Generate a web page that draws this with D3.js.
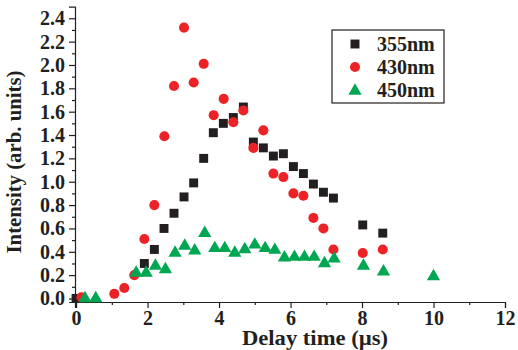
<!DOCTYPE html>
<html>
<head>
<meta charset="utf-8">
<script src="https://cdn.jsdelivr.net/npm/d3@7"></script>
<style>
  html, body { margin: 0; padding: 0; background: #ffffff; }
  svg { display: block; }
  text { font-family: "Liberation Serif", "Times New Roman", serif; font-weight: bold; fill: #231f20; }
</style>
</head>
<body>
<div id="chart"></div>
<script>
// ---- data ----
const seriesNames = ["355nm", "430nm", "450nm"];

const time355 = [0, 1.91, 2.19, 2.46, 2.74, 3.02, 3.29, 3.57, 3.84, 4.12, 4.40, 4.68, 4.96, 5.24, 5.52, 5.80, 6.08, 6.36, 6.64, 6.92, 7.20, 8.02, 8.58];
const int355  = [0, 0.30, 0.42, 0.60, 0.73, 0.87, 0.99, 1.20, 1.42, 1.50, 1.55, 1.64, 1.34, 1.29, 1.22, 1.24, 1.13, 1.07, 0.98, 0.91, 0.86, 0.63, 0.56];

const time430 = [0.15, 1.07, 1.35, 1.63, 1.91, 2.19, 2.47, 2.74, 3.02, 3.29, 3.57, 3.85, 4.13, 4.40, 4.68, 4.96, 5.24, 5.52, 5.80, 6.08, 6.36, 6.64, 6.92, 7.20, 8.02, 8.58];
const int430  = [0.01, 0.04, 0.09, 0.20, 0.51, 0.80, 1.39, 1.82, 2.32, 1.85, 2.01, 1.57, 1.71, 1.51, 1.61, 1.29, 1.44, 1.07, 1.04, 0.90, 0.88, 0.69, 0.60, 0.42, 0.39, 0.42];

const time450 = [0.25, 0.55, 1.68, 1.96, 2.22, 2.50, 2.77, 3.04, 3.32, 3.60, 3.88, 4.16, 4.44, 4.72, 5.00, 5.29, 5.56, 5.83, 6.11, 6.39, 6.66, 6.95, 7.22, 8.04, 8.60, 10.0];
const int450  = [0, 0, 0.22, 0.22, 0.28, 0.25, 0.39, 0.45, 0.41, 0.56, 0.43, 0.43, 0.39, 0.42, 0.46, 0.43, 0.415, 0.35, 0.355, 0.355, 0.355, 0.30, 0.34, 0.28, 0.23, 0.19];

const xTicks = [0, 2, 4, 6, 8, 10, 12];
const yTicks = [0, 0.2, 0.4, 0.6, 0.8, 1.0, 1.2, 1.4, 1.6, 1.8, 2.0, 2.2, 2.4];

// ---- layout ----
const W = 518, H = 350;
const svg = d3.select("#chart").append("svg").attr("width", W).attr("height", H);

const x = d3.scaleLinear().domain([-0.03, 12]).range([75, 505]);
const y = d3.scaleLinear().domain([-0.03, 2.5]).range([302, 6.6]);

const ink = "#231f20";
const colors = ["#231f20", "#ec2227", "#00a651"];
const shapes = [d3.symbolSquare, d3.symbolCircle, d3.symbolTriangle];
const sizes = [80, 80, 76];

// axes
const xAxis = d3.axisBottom(x).tickValues(xTicks).tickFormat(d3.format("d")).tickSize(6).tickPadding(3);
const xMinor = d3.axisBottom(x).tickValues(d3.range(1, 12, 2)).tickFormat("").tickSize(3);
const yAxis = d3.axisLeft(y).tickValues(yTicks).tickFormat(d3.format(".1f")).tickSize(6).tickPadding(4);
const yMinor = d3.axisLeft(y).tickValues(d3.range(0.1, 2.5, 0.2)).tickFormat("").tickSize(3);

function styleAxis(g) {
  g.selectAll("path, line").attr("stroke", ink).attr("stroke-width", 1.2);
  g.selectAll("text").attr("font-size", 20).attr("font-family", "Liberation Serif, serif").attr("font-weight", "bold").attr("fill", ink);
}

svg.append("g").attr("transform", `translate(0,${y(-0.03)})`).call(xAxis).call(styleAxis);
svg.append("g").attr("transform", `translate(0,${y(-0.03)})`).call(xMinor).call(styleAxis).select(".domain").remove();
svg.append("g").attr("transform", `translate(${x(-0.03)},0)`).call(yAxis).call(styleAxis);
svg.append("g").attr("transform", `translate(${x(-0.03)},0)`).call(yMinor).call(styleAxis).select(".domain").remove();

// axis titles
svg.append("text")
  .attr("x", 315).attr("y", 345)
  .attr("text-anchor", "middle")
  .attr("font-size", 20)
  .attr("textLength", 146).attr("lengthAdjust", "spacingAndGlyphs")
  .text("Delay time (\u00b5s)");

svg.append("text")
  .attr("transform", "translate(21,162) rotate(-90)")
  .attr("text-anchor", "middle")
  .attr("font-size", 20)
  .attr("textLength", 183).attr("lengthAdjust", "spacingAndGlyphs")
  .text("Intensity (arb. units)");

// data points
const allSeries = [
  { t: time355, v: int355 },
  { t: time430, v: int430 },
  { t: time450, v: int450 }
];

allSeries.forEach((s, i) => {
  const pts = s.t.map((t, k) => [t, s.v[k]]);
  svg.append("g").selectAll("path").data(pts).join("path")
    .attr("d", d3.symbol().type(shapes[i]).size(sizes[i]))
    .attr("transform", d => `translate(${x(d[0])},${y(d[1])})`)
    .attr("fill", colors[i]);
});

// legend
const lg = svg.append("g");
lg.append("rect").attr("x", 332).attr("y", 30).attr("width", 112).attr("height", 73)
  .attr("fill", "#fff").attr("stroke", ink).attr("stroke-width", 1.2);
seriesNames.forEach((n, i) => {
  const cy = 44 + i * 23;
  lg.append("path")
    .attr("d", d3.symbol().type(shapes[i]).size(sizes[i]))
    .attr("transform", `translate(355,${cy + (i === 2 ? 1 : 0)})`)
    .attr("fill", colors[i]);
  lg.append("text").attr("x", 377).attr("y", cy + 6.5).attr("font-size", 20).text(n);
});
</script>
</body>
</html>
